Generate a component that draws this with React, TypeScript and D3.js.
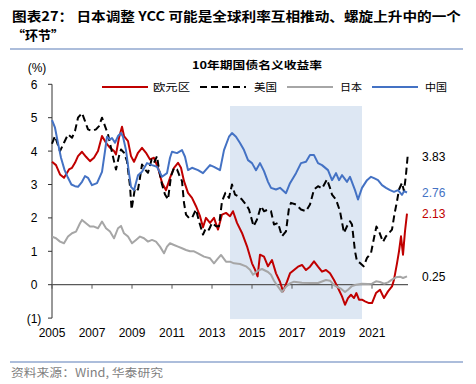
import React from "react";
import * as d3 from "d3";

// 10y government bond yields, [year, %]
const euro: [number, number][] = [
  [2005.0, 3.68], [2005.2, 3.58], [2005.4, 3.3], [2005.6, 3.2], [2005.7, 3.3], [2005.85, 3.45],
  [2006.0, 3.5], [2006.15, 3.65], [2006.3, 3.85], [2006.5, 3.98], [2006.7, 3.83], [2006.9, 3.7],
  [2007.1, 3.8], [2007.3, 4.0], [2007.5, 4.45], [2007.7, 4.25], [2007.9, 4.1], [2008.1, 4.0],
  [2008.2, 3.9], [2008.35, 4.4], [2008.5, 4.73], [2008.6, 4.45], [2008.8, 4.3], [2008.95, 3.85],
  [2009.1, 3.68], [2009.3, 3.95], [2009.5, 4.1], [2009.7, 3.95], [2009.9, 3.75], [2010.1, 3.8],
  [2010.3, 3.5], [2010.5, 3.05], [2010.7, 2.83], [2010.9, 3.2], [2011.1, 3.5], [2011.3, 3.65],
  [2011.45, 3.5], [2011.6, 3.1], [2011.8, 2.75], [2012.0, 2.6], [2012.2, 2.35], [2012.4, 2.05],
  [2012.55, 1.72], [2012.7, 2.0], [2012.9, 1.85], [2013.1, 2.0], [2013.3, 1.65], [2013.5, 2.1],
  [2013.7, 2.15], [2013.9, 2.05], [2014.05, 2.2], [2014.25, 1.85], [2014.5, 1.55], [2014.75, 1.15],
  [2015.0, 0.64], [2015.15, 0.45], [2015.28, 0.25], [2015.4, 0.9], [2015.6, 0.84], [2015.8, 0.55],
  [2016.0, 0.74], [2016.2, 0.34], [2016.4, 0.09], [2016.55, -0.2], [2016.75, 0.09], [2016.9, 0.34],
  [2017.1, 0.44], [2017.3, 0.54], [2017.5, 0.59], [2017.7, 0.44], [2017.9, 0.54], [2018.1, 0.7],
  [2018.3, 0.54], [2018.5, 0.39], [2018.7, 0.44], [2018.9, 0.34], [2019.1, 0.14], [2019.3, -0.1],
  [2019.5, -0.35], [2019.65, -0.6], [2019.8, -0.4], [2019.95, -0.3], [2020.1, -0.4], [2020.22, -0.25],
  [2020.35, -0.45], [2020.5, -0.45], [2020.65, -0.5], [2020.85, -0.55], [2021.0, -0.55], [2021.2, -0.25],
  [2021.4, -0.15], [2021.6, -0.4], [2021.8, -0.2], [2022.0, -0.05], [2022.1, 0.15], [2022.25, 0.64],
  [2022.35, 1.0], [2022.45, 1.45], [2022.55, 0.9], [2022.65, 1.6], [2022.75, 2.13],
];

const us: [number, number][] = [
  [2005.0, 4.22], [2005.15, 4.45], [2005.4, 4.0], [2005.6, 4.25], [2005.8, 4.5], [2006.0, 4.4],
  [2006.15, 4.6], [2006.3, 5.0], [2006.5, 5.14], [2006.65, 4.9], [2006.8, 4.65], [2007.0, 4.6],
  [2007.2, 4.65], [2007.35, 4.75], [2007.5, 5.0], [2007.65, 4.75], [2007.8, 4.5], [2007.95, 4.1],
  [2008.1, 3.7], [2008.2, 3.45], [2008.35, 3.85], [2008.45, 4.05], [2008.6, 3.95], [2008.75, 3.7],
  [2008.9, 2.95], [2008.98, 2.25], [2009.15, 2.9], [2009.3, 2.85], [2009.4, 3.2], [2009.5, 3.6],
  [2009.65, 3.45], [2009.8, 3.35], [2009.98, 3.75], [2010.1, 3.65], [2010.25, 3.85], [2010.35, 3.45],
  [2010.5, 3.0], [2010.65, 2.7], [2010.8, 2.55], [2010.95, 3.25], [2011.1, 3.5], [2011.25, 3.45],
  [2011.35, 3.3], [2011.5, 3.1], [2011.6, 2.45], [2011.7, 2.1], [2011.85, 2.0], [2012.0, 2.0],
  [2012.2, 2.25], [2012.35, 1.9], [2012.55, 1.5], [2012.7, 1.7], [2012.85, 1.65], [2013.0, 1.85],
  [2013.2, 1.75], [2013.35, 1.75], [2013.5, 2.5], [2013.67, 2.75], [2013.85, 2.6], [2014.0, 3.0],
  [2014.15, 2.7], [2014.3, 2.65], [2014.5, 2.55], [2014.7, 2.4], [2014.85, 2.25], [2015.08, 1.75],
  [2015.25, 1.95], [2015.45, 2.35], [2015.6, 2.2], [2015.8, 2.25], [2015.95, 2.2], [2016.1, 1.8],
  [2016.3, 1.85], [2016.5, 1.45], [2016.7, 1.6], [2016.85, 2.3], [2016.95, 2.45], [2017.2, 2.4],
  [2017.45, 2.25], [2017.7, 2.2], [2017.9, 2.4], [2018.1, 2.85], [2018.3, 2.95], [2018.5, 2.88],
  [2018.75, 3.15], [2018.9, 2.9], [2019.0, 2.7], [2019.2, 2.55], [2019.4, 2.2], [2019.6, 1.55],
  [2019.75, 1.75], [2019.9, 1.9], [2020.0, 1.8], [2020.15, 1.0], [2020.25, 0.7], [2020.4, 0.65],
  [2020.58, 0.55], [2020.75, 0.8], [2020.95, 0.95], [2021.1, 1.4], [2021.22, 1.74], [2021.35, 1.6],
  [2021.55, 1.28], [2021.7, 1.45], [2021.85, 1.55], [2022.0, 1.65], [2022.12, 2.1], [2022.25, 2.5],
  [2022.35, 2.85], [2022.5, 3.05], [2022.6, 2.8], [2022.7, 3.3], [2022.78, 3.83],
];

const japan: [number, number][] = [
  [2005.0, 1.44], [2005.2, 1.39], [2005.4, 1.29], [2005.6, 1.24], [2005.8, 1.44], [2006.0, 1.54],
  [2006.2, 1.59], [2006.4, 1.84], [2006.5, 1.94], [2006.7, 1.84], [2006.9, 1.74], [2007.1, 1.74],
  [2007.3, 1.69], [2007.5, 1.89], [2007.7, 1.69], [2007.9, 1.59], [2008.1, 1.39], [2008.3, 1.69],
  [2008.45, 1.76], [2008.6, 1.54], [2008.8, 1.44], [2009.0, 1.24], [2009.2, 1.34], [2009.4, 1.44],
  [2009.6, 1.39], [2009.8, 1.29], [2010.0, 1.34], [2010.2, 1.29], [2010.4, 1.14], [2010.6, 0.94],
  [2010.75, 1.14], [2010.9, 1.24], [2011.1, 1.19], [2011.3, 1.14], [2011.5, 1.09], [2011.7, 1.04],
  [2011.9, 1.0], [2012.1, 1.0], [2012.3, 0.94], [2012.6, 0.84], [2012.9, 0.79], [2013.1, 0.64],
  [2013.3, 0.79], [2013.45, 0.89], [2013.7, 0.69], [2013.9, 0.69], [2014.1, 0.64], [2014.4, 0.62],
  [2014.7, 0.55], [2014.9, 0.45], [2015.05, 0.3], [2015.3, 0.42], [2015.5, 0.47], [2015.8, 0.38],
  [2015.95, 0.3], [2016.1, 0.12], [2016.3, -0.06], [2016.5, -0.22], [2016.7, -0.06], [2016.9, 0.04],
  [2017.1, 0.09], [2017.5, 0.06], [2017.9, 0.05], [2018.3, 0.05], [2018.7, 0.14], [2018.9, 0.12],
  [2019.1, -0.01], [2019.3, -0.08], [2019.45, -0.12], [2019.65, -0.22], [2019.8, -0.15], [2020.0, -0.04],
  [2020.2, 0.0], [2020.5, 0.03], [2020.8, 0.02], [2021.0, 0.03], [2021.2, 0.1], [2021.4, 0.08],
  [2021.6, 0.03], [2021.8, 0.07], [2022.0, 0.15], [2022.2, 0.22], [2022.4, 0.24], [2022.55, 0.2],
  [2022.75, 0.25],
];

const china: [number, number][] = [
  [2005.0, 4.93], [2005.15, 4.7], [2005.3, 4.24], [2005.45, 3.8], [2005.63, 3.43], [2005.8, 3.2],
  [2005.97, 3.0], [2006.15, 2.95], [2006.3, 2.93], [2006.5, 3.08], [2006.65, 3.25], [2006.8, 3.2],
  [2007.0, 2.98], [2007.25, 3.04], [2007.5, 3.38], [2007.65, 4.0], [2007.75, 4.43], [2007.9, 4.35],
  [2008.0, 4.39], [2008.15, 4.25], [2008.3, 4.45], [2008.45, 4.54], [2008.55, 4.43], [2008.7, 4.03],
  [2008.83, 3.43], [2008.95, 2.93], [2009.1, 2.83], [2009.3, 3.28], [2009.5, 3.38], [2009.75, 3.64],
  [2010.0, 3.58], [2010.25, 3.53], [2010.5, 3.23], [2010.75, 3.34], [2010.9, 3.8], [2011.0, 3.98],
  [2011.25, 3.94], [2011.5, 4.03], [2011.65, 3.83], [2011.8, 3.43], [2012.0, 3.5], [2012.3, 3.43],
  [2012.55, 3.34], [2012.9, 3.58], [2013.1, 3.53], [2013.4, 3.43], [2013.6, 4.03], [2013.85, 4.43],
  [2014.0, 4.54], [2014.2, 4.43], [2014.4, 4.24], [2014.6, 4.03], [2014.8, 3.73], [2015.0, 3.64],
  [2015.2, 3.43], [2015.4, 3.64], [2015.6, 3.4], [2015.8, 3.08], [2015.95, 2.9], [2016.2, 2.85],
  [2016.4, 2.9], [2016.7, 2.74], [2016.9, 3.04], [2017.2, 3.34], [2017.45, 3.64], [2017.7, 3.68],
  [2017.9, 3.88], [2018.1, 3.88], [2018.3, 3.64], [2018.5, 3.58], [2018.8, 3.43], [2019.0, 3.13],
  [2019.2, 3.34], [2019.35, 3.13], [2019.5, 3.28], [2019.75, 3.08], [2019.9, 3.23], [2020.15, 2.83],
  [2020.3, 2.55], [2020.5, 2.9], [2020.75, 3.13], [2020.95, 3.23], [2021.1, 3.19], [2021.3, 3.13],
  [2021.5, 2.98], [2021.7, 2.9], [2021.9, 2.83], [2022.1, 2.78], [2022.3, 2.83], [2022.5, 2.69],
  [2022.6, 2.8], [2022.75, 2.76],
];

const yTicks = [6, 5, 4, 3, 2, 1, 0, -1];
const xTicks = [2005, 2007, 2009, 2011, 2013, 2015, 2017, 2019, 2021];
const shadeYears = [2013.9, 2020.5];
const endLabels = [
  { value: 3.83, text: "3.83", color: "#000" },
  { value: 2.76, text: "2.76", color: "#4472C4" },
  { value: 2.13, text: "2.13", color: "#C00000" },
  { value: 0.25, text: "0.25", color: "#000" },
];

const LATIN = "'Liberation Sans', Arial, sans-serif";
const CJK = "'Noto Sans CJK SC', 'Liberation Sans', sans-serif";

const fmtY = (v: number) => (v < 0 ? `(${-v})` : `${v}`);

export default function App() {
  const x = d3.scaleLinear().domain([2005, 2022.8]).range([52, 408]);
  const y = d3.scaleLinear().domain([-1, 6]).range([318.1, 84.3]);
  const line = d3
    .line<[number, number]>()
    .x((d) => x(d[0]))
    .y((d) => y(d[1]));

  const series = [
    { name: "欧元区", data: euro, color: "#C00000", dash: "", lx: 102, tx: 153, tw: 37 },
    { name: "美国", data: us, color: "#000", dash: "7,4", lx: 200, tx: 254, tw: 23 },
    { name: "日本", data: japan, color: "#A6A6A6", dash: "", lx: 287, tx: 340, tw: 22 },
    { name: "中国", data: china, color: "#4472C4", dash: "", lx: 372, tx: 425, tw: 22 },
  ];

  return (
    <svg width={476} height={384} style={{ display: "block", position: "absolute", left: 0, top: 0 }}>
      <rect width={476} height={384} fill="#fff" />
      {/* report title */}
      <text x={12} y={21} fontSize={13} fontWeight="bold" fontFamily={CJK} textLength={449} lengthAdjust="spacingAndGlyphs">
        图表27： 日本调整 YCC 可能是全球利率互相推动、螺旋上升中的一个
      </text>
      <text x={12} y={40} fontSize={13} fontWeight="bold" fontFamily={CJK}>
        “环节”
      </text>
      <line x1={10} x2={463} y1={49} y2={49} stroke="#5B7DB8" strokeWidth={1.2} />

      {/* chart title and legend */}
      <text x={192} y={69} fontSize={10.5} fontWeight="bold" fontFamily={CJK} textLength={130} lengthAdjust="spacingAndGlyphs">
        10年期国债名义收益率
      </text>
      {series.map((s) => (
        <g key={s.name}>
          <line x1={s.lx} x2={s.lx + 46} y1={87} y2={87} stroke={s.color} strokeWidth={2} strokeDasharray={s.dash} />
          <text x={s.tx} y={91} fontSize={10} fontFamily={CJK} textLength={s.tw} lengthAdjust="spacingAndGlyphs">
            {s.name}
          </text>
        </g>
      ))}

      {/* shaded period */}
      <rect
        x={x(shadeYears[0])}
        y={106}
        width={x(shadeYears[1]) - x(shadeYears[0])}
        height={y(-1) + 1 - 106}
        fill="#DDE7F3"
      />

      {/* axes */}
      <line x1={52} x2={52} y1={y(6)} y2={y(-1)} stroke="#333" strokeWidth={1} />
      {yTicks.map((t) => (
        <g key={t}>
          <line x1={48} x2={52} y1={y(t)} y2={y(t)} stroke="#333" />
          <text x={34} y={y(t) + 4.5} fontSize={12} textAnchor="middle" fontFamily={LATIN}>
            {fmtY(t)}
          </text>
        </g>
      ))}
      <text x={37} y={72} fontSize={12} textAnchor="middle" fontFamily={LATIN}>
        (%)
      </text>
      <line x1={52} x2={x(2022.8)} y1={y(0)} y2={y(0)} stroke="#595959" strokeWidth={1.3} />
      {xTicks.map((t) => (
        <g key={t}>
          <line x1={x(t)} x2={x(t)} y1={y(0)} y2={y(0) + 4} stroke="#595959" />
          <text x={x(t)} y={337} fontSize={12} textAnchor="middle" fontFamily={LATIN}>
            {t}
          </text>
        </g>
      ))}

      {/* series */}
      {series.map((s) => (
        <path
          key={s.name}
          d={line(s.data) || ""}
          fill="none"
          stroke={s.color}
          strokeWidth={2}
          strokeDasharray={s.dash}
          strokeLinejoin="round"
        />
      ))}

      {/* latest values */}
      {endLabels.map((l) => (
        <text key={l.text} x={422} y={y(l.value) + 4.5} fontSize={12} fill={l.color} fontFamily={LATIN}>
          {l.text}
        </text>
      ))}

      {/* footer */}
      <line x1={10} x2={463} y1={362} y2={362} stroke="#5B7DB8" strokeWidth={1.2} />
      <text x={11} y={377} fontSize={11.5} fill="#7F7F7F" fontFamily={CJK} textLength={152} lengthAdjust="spacingAndGlyphs">
        资料来源：Wind, 华泰研究
      </text>
    </svg>
  );
}
